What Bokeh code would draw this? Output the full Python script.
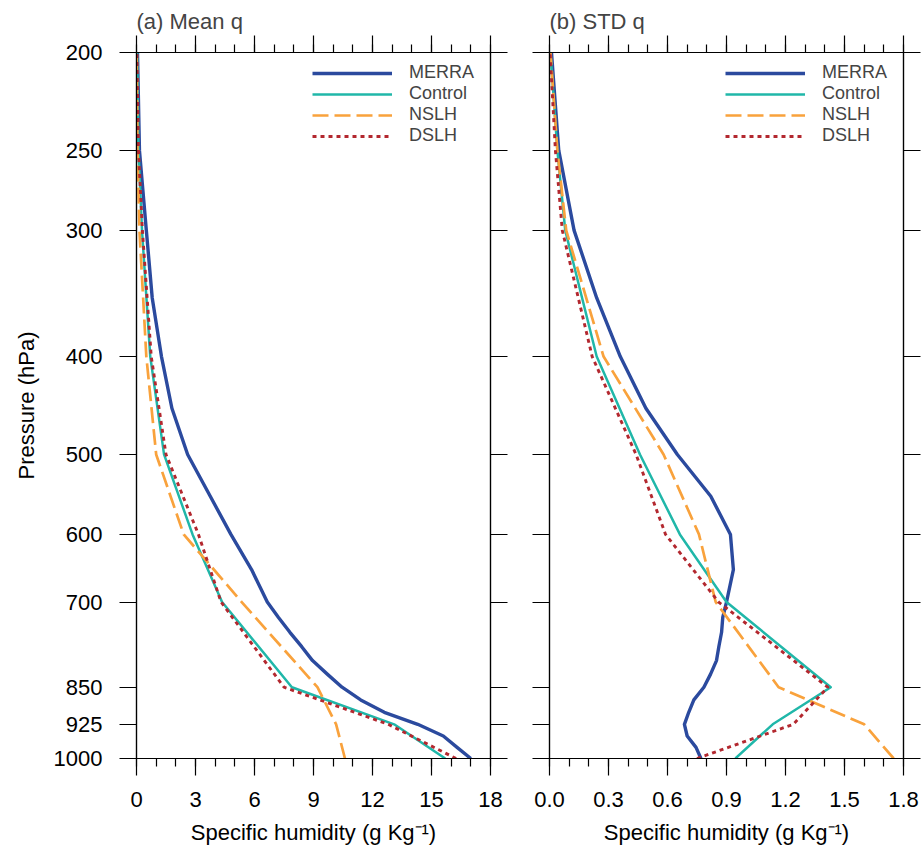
from bokeh.plotting import figure
from bokeh.models import (Range1d, FixedTicker, LinearAxis, LogAxis, Legend, LegendItem,
                          CustomJSTickFormatter, PrintfTickFormatter)
from bokeh.layouts import row
from bokeh.embed import file_html
from bokeh.resources import INLINE

# ---------------- data ----------------
merra_levels = [1000, 975, 950, 925, 900, 875, 850, 825, 800, 775, 750, 725, 700,
                650, 600, 550, 500, 450, 400, 350, 300, 250, 200]
model_levels = [1000, 925, 850, 700, 600, 500, 400, 300, 250, 200]

mean_merra = [17.0, 16.3, 15.6, 14.3, 12.6, 11.4, 10.45, 9.7, 8.95, 8.4, 7.8, 7.22, 6.65,
              5.85, 4.8, 3.75, 2.6, 1.8, 1.27, 0.8, 0.5, 0.15, 0.05]
mean_control = [15.7, 13.1, 7.9, 4.35, 2.85, 1.4, 0.7, 0.28, 0.1, 0.03]
mean_nslh = [10.6, 10.15, 9.2, 5.35, 2.4, 1.0, 0.5, 0.15, 0.05, 0.01]
mean_dslh = [16.25, 12.8, 7.5, 4.3, 3.15, 1.5, 0.75, 0.3, 0.1, 0.02]

std_merra = [0.77, 0.745, 0.70, 0.686, 0.708, 0.734, 0.785, 0.819, 0.849, 0.861, 0.875, 0.881,
             0.90, 0.935, 0.92, 0.82, 0.65, 0.49, 0.36, 0.24, 0.125, 0.047, 0.01]
std_control = [0.945, 1.135, 1.43, 0.90, 0.663, 0.46, 0.24, 0.08, 0.04, 0.005]
std_nslh = [1.75, 1.6, 1.165, 0.845, 0.76, 0.58, 0.275, 0.085, 0.04, 0.005]
std_dslh = [0.75, 1.24, 1.415, 0.86, 0.59, 0.44, 0.217, 0.065, 0.03, 0.003]

p_ticks = [200, 250, 300, 400, 500, 600, 700, 850, 925, 1000]
mean_ticks = [0, 3, 6, 9, 12, 15, 18]
mean_minor = list(range(0, 19))
std_ticks = [0.0, 0.3, 0.6, 0.9, 1.2, 1.5, 1.8]
std_minor = [round(0.1 * i, 1) for i in range(0, 19)]

series_names = ["MERRA", "Control", "NSLH", "DSLH"]

FONT = "Liberation Sans"
FS = "22px"
COLORS = ["#2b4a9e", "#20b7a9", "#f9a23c", "#b3282f"]
WIDTHS = [3.4, 2.5, 2.7, 2.9]
DASHES = ["solid", "solid", "16 6", "4 4"]


def style_axis(ax, ticker, labels=True):
    ax.ticker = ticker
    ax.axis_line_color = "black"
    ax.axis_line_width = 1.2
    ax.major_tick_line_color = "black"
    ax.minor_tick_line_color = "black"
    ax.major_tick_line_width = 1.2
    ax.minor_tick_line_width = 1.2
    ax.major_tick_in = 0
    ax.major_tick_out = 17
    ax.minor_tick_in = 0
    ax.minor_tick_out = 8
    ax.major_label_text_font = FONT
    ax.major_label_text_font_size = FS
    ax.major_label_text_color = "black"
    ax.axis_label_text_font = FONT
    ax.axis_label_text_font_size = FS
    ax.axis_label_text_font_style = "normal"
    ax.axis_label_text_color = "black"
    if not labels:
        ax.formatter = CustomJSTickFormatter(code="return ''")


def panel(title, xmax, xticks, xminor, xfmt, values, width, bl, br, ylabel):
    p = figure(width=width, height=852, x_range=Range1d(0, xmax), y_range=Range1d(1000, 200),
               y_axis_type="log", output_backend="svg", toolbar_location=None,
               min_border_left=bl, min_border_right=br, min_border_top=52, min_border_bottom=94)
    p.xgrid.visible = False
    p.ygrid.visible = False
    p.outline_line_color = "black"
    p.outline_line_width = 1.2
    p.background_fill_color = "white"
    p.border_fill_color = "white"

    p.title.text = title
    p.title.text_font = FONT
    p.title.text_font_size = FS
    p.title.text_font_style = "normal"
    p.title.align = "left"
    p.title.standoff = 4

    xt = FixedTicker(ticks=xticks, minor_ticks=xminor)
    yt = FixedTicker(ticks=p_ticks, minor_ticks=[])

    xa = p.xaxis[0]
    style_axis(xa, xt)
    xa.formatter = xfmt
    xa.major_label_standoff = 16
    xa.axis_label = "Specific humidity (g Kg\u207b\u00b9)"
    xa.axis_label_standoff = 10

    ya = p.yaxis[0]
    if ylabel:
        style_axis(ya, yt)
        ya.formatter = PrintfTickFormatter(format="%d")
        ya.major_label_standoff = 17
        ya.axis_label = ylabel
        ya.axis_label_standoff = 12
    else:
        style_axis(ya, yt, labels=False)
        ya.major_label_standoff = 0

    top = LinearAxis()
    style_axis(top, FixedTicker(ticks=xticks, minor_ticks=xminor), labels=False)
    top.major_label_standoff = 0
    p.add_layout(top, "above")

    right = LogAxis()
    style_axis(right, FixedTicker(ticks=p_ticks, minor_ticks=[]), labels=False)
    right.major_label_standoff = 0
    p.add_layout(right, "right")

    items = []
    for i, (name, (vals, lev)) in enumerate(zip(series_names, values)):
        r = p.line(vals, lev, line_color=COLORS[i], line_width=WIDTHS[i],
                   line_dash=DASHES[i], line_join="round")
        items.append(LegendItem(label=name, renderers=[r]))

    leg = Legend(items=items, location="top_right", margin=10, padding=10, spacing=0,
                 glyph_width=80, glyph_height=20, label_height=20, label_standoff=17,
                 label_width=71,
                 label_text_font=FONT, label_text_font_size="18px",
                 border_line_color=None, background_fill_alpha=0)
    p.add_layout(leg)
    return p


p1 = panel("(a) Mean q", 18, mean_ticks, mean_minor, PrintfTickFormatter(format="%d"),
           [(mean_merra, merra_levels), (mean_control, model_levels),
            (mean_nslh, model_levels), (mean_dslh, model_levels)],
           512, 136, 22, "Pressure (hPa)")
p2 = panel("(b) STD q", 1.8, std_ticks, std_minor, PrintfTickFormatter(format="%.1f"),
           [(std_merra, merra_levels), (std_control, model_levels),
            (std_nslh, model_levels), (std_dslh, model_levels)],
           410, 37, 19, None)

layout = row(p1, p2)
open("out.html", "w").write(file_html(layout, INLINE))
